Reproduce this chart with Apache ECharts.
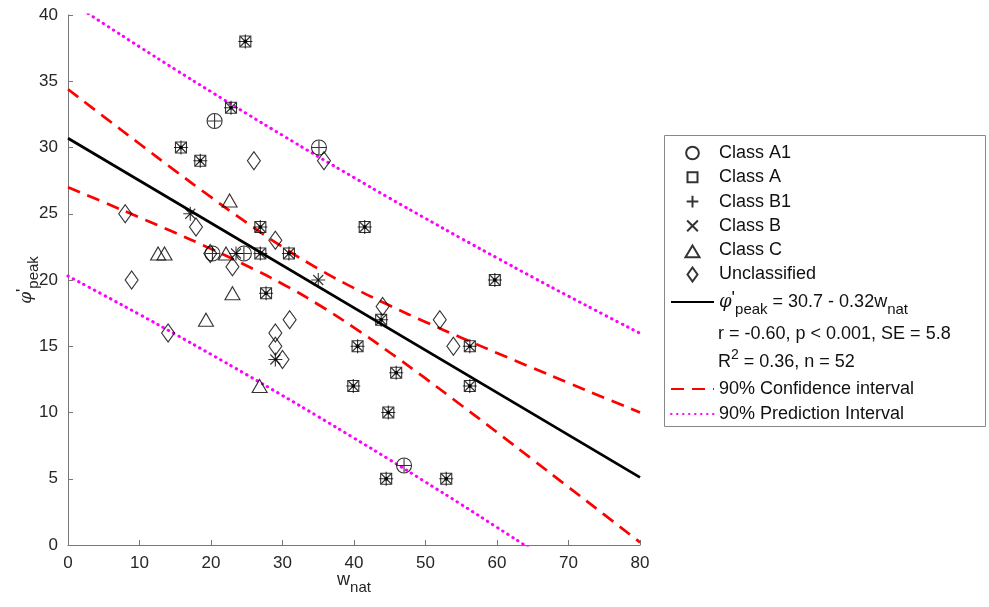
<!DOCTYPE html>
<html>
<head>
<meta charset="utf-8">
<script src="https://cdn.jsdelivr.net/npm/echarts@6/dist/echarts.min.js"></script>
<style>
  html, body { margin: 0; padding: 0; background: #fff; }
  #main { width: 989px; height: 607px; }
</style>
</head>
<body>
<div id="main"></div>
<script>
// points per class [w_nat, phi'_peak]
var classA1 = [[20.5, 32], [35.1, 30], [47.0, 6], [20.2, 22], [24.6, 22]];
var classA = [[24.8, 38], [22.8, 33], [15.8, 30], [18.5, 29], [26.9, 24], [26.9, 22], [30.9, 22],
    [27.7, 19], [41.5, 24], [59.7, 20], [43.8, 17], [40.5, 15], [56.2, 15], [45.9, 13],
    [39.9, 12], [56.2, 12], [44.8, 10], [44.5, 5], [52.9, 5]];
var classB = [[35.0, 20], [29.0, 14], [17.1, 25], [23.5, 22]];
var classC = [[22.6, 26], [12.6, 22], [13.5, 22], [22.1, 22], [23.0, 19], [19.3, 17], [26.8, 12]];
var unclassified = [[8.0, 25], [17.9, 24], [19.9, 22], [23.0, 21], [8.9, 20], [14.0, 16], [29.0, 23],
    [31.0, 17], [29.0, 16], [29.0, 15], [30.0, 14], [26.0, 29], [35.8, 29], [44.0, 18],
    [52.0, 17], [53.9, 15]];

// regression line
var regX = [0, 80];
var regY = [30.7, 5.1];

// interval bands read at these w_nat values
var bandX = [0, 5, 10, 15, 20, 25, 30, 35, 40, 45, 50, 55, 60, 65, 70, 75, 80];
var ciUpper = [34.4, 32.33, 30.28, 28.24, 26.25, 24.32, 22.5, 20.85, 19.39, 18.07, 16.83, 15.65, 14.49, 13.36, 12.23, 11.11, 10.0];
var ciLower = [27.0, 25.87, 24.72, 23.56, 22.35, 21.08, 19.7, 18.15, 16.41, 14.53, 12.57, 10.55, 8.51, 6.44, 4.37, 2.29, 0.2];
var piUpper = [41.1, 39.34, 37.6, 35.89, 34.21, 32.55, 30.92, 29.31, 27.73, 26.17, 24.65, 23.14, 21.67, 20.21, 18.78, 17.37, 15.98];
var piLower = [20.3, 18.86, 17.4, 15.91, 14.39, 12.85, 11.28, 9.69, 8.07, 6.43, 4.75, 3.06, 1.33, -0.41, -2.2, -4.0, -5.8];

var xTicks = [0, 80, 10];
var yTicks = [0, 40, 5];

var FONT = '"Liberation Sans", Arial, sans-serif';
var PLUS = 'path://M5,0L5,10M0,5L10,5';
var CROSS = 'path://M0,0L10,10M0,10L10,0';
// legend icons: the leading moveTo points widen the box to the 43x14 legend slot,
// so each glyph ends up centred and at its own size
var ICON_CIRCLE = 'path://M-11.9,-0.5M21.9,10.5M0,5A5,5,0,1,1,10,5A5,5,0,1,1,0,5Z';
var ICON_RECT = 'path://M-16.5,-2M26.5,12M0,0L10,0L10,10L0,10Z';
var ICON_PLUS = 'path://M-13.4,-1M23.4,11M5,0L5,10M0,5L10,5';
var ICON_CROSS = 'path://M-15,-1.5M25,11.5M0,0L10,10M0,10L10,0';
var ICON_TRI = 'path://M-12.4,-2M24.4,10M6,0L12,10L0,10Z';
var ICON_DIAMOND = 'path://M-16.5,0M26.5,14M5,0L10,7L5,14L0,7Z';

function zip(xs, ys) {
    return xs.map(function (x, i) { return [x, ys[i]]; });
}

var hollow = { color: 'rgba(0,0,0,0)', borderColor: '#000', borderWidth: 1.1 };
var noDot = { color: 'rgba(0,0,0,0)', borderWidth: 0 };

var myChart = echarts.init(document.getElementById('main'));
myChart.setOption({
    animation: false,
    textStyle: { fontFamily: FONT },
    grid: { left: 68, top: 15, width: 572, height: 530, outerBoundsMode: 'none', containLabel: false },
    xAxis: {
        type: 'value', min: xTicks[0], max: xTicks[1], interval: xTicks[2],
        name: '{a|w}{b|nat}', nameLocation: 'middle', nameGap: 21, nameMoveOverlap: false,
        nameTextStyle: {
            rich: {
                a: { fontSize: 18, color: '#262626', fontFamily: FONT },
                b: { fontSize: 15, color: '#262626', fontFamily: FONT, padding: [14, 0, 0, 0] }
            }
        },
        axisLine: { lineStyle: { color: '#777', width: 1 } },
        axisTick: { inside: true, length: 5, lineStyle: { color: '#777' } },
        axisLabel: { fontSize: 17, color: '#262626', margin: 10 },
        splitLine: { show: false }
    },
    yAxis: {
        type: 'value', min: yTicks[0], max: yTicks[1], interval: yTicks[2],
        name: '{a|φ}{p|\'}{b|peak}', nameLocation: 'middle', nameGap: 27, nameMoveOverlap: false,
        nameTextStyle: {
            rich: {
                a: { fontSize: 17, color: '#262626', fontStyle: 'italic', fontFamily: 'DejaVu Serif' },
                p: { fontSize: 17, color: '#262626', fontFamily: FONT, padding: [0, 0, 6, 0] },
                b: { fontSize: 15, color: '#262626', fontFamily: FONT, padding: [14, 0, 0, 0] }
            }
        },
        axisLine: { show: true, lineStyle: { color: '#777', width: 1 } },
        axisTick: { show: true, inside: true, length: 5, lineStyle: { color: '#777' } },
        axisLabel: { fontSize: 17, color: '#262626', margin: 10 },
        splitLine: { show: false }
    },
    legend: [
        {
            orient: 'vertical', left: 670, top: 144, padding: 0,
            itemWidth: 43, itemHeight: 14, itemGap: 6.3,
            textStyle: { fontSize: 18, lineHeight: 18, color: '#111' },
            selectedMode: false,
            data: [
                { name: 'Class A1', icon: ICON_CIRCLE },
                { name: 'Class A', icon: ICON_RECT },
                { name: 'Class B1', icon: ICON_PLUS },
                { name: 'Class B', icon: ICON_CROSS },
                { name: 'Class C', icon: ICON_TRI },
                { name: 'Unclassified', icon: ICON_DIAMOND }
            ]
        },
        {
            orient: 'vertical', left: 670, top: 290, padding: 0, itemWidth: 43, itemHeight: 14,
            selectedMode: false,
            formatter: function () {
                return '{a|φ}{p|\'}{b|peak}{n| = 30.7 - 0.32w}{b|nat}';
            },
            textStyle: {
                color: '#111',
                rich: {
                    a: { fontSize: 18, fontStyle: 'italic', fontFamily: 'DejaVu Serif', color: '#111' },
                    p: { fontSize: 18, color: '#111', padding: [0, 0, 6, 0] },
                    n: { fontSize: 18, color: '#111' },
                    b: { fontSize: 15, color: '#111', padding: [16, 0, 0, 0] }
                }
            },
            data: ['regression']
        },
        {
            orient: 'vertical', left: 670, top: 380, padding: 0,
            itemWidth: 43, itemHeight: 14, itemGap: 7,
            textStyle: { fontSize: 18, lineHeight: 18, color: '#111' },
            selectedMode: false,
            data: ['90% Confidence interval', '90% Prediction Interval']
        }
    ],
    graphic: [
        {
            type: 'rect', left: 664, top: 135, z: -1,
            shape: { width: 321, height: 291 },
            style: { fill: '#fff', stroke: '#888', lineWidth: 1 }
        },
        {
            type: 'text', left: 718, top: 325,
            style: { text: 'r = -0.60, p < 0.001, SE = 5.8', font: '18px ' + FONT, fill: '#111' }
        },
        {
            type: 'text', left: 718, top: 348,
            style: {
                text: '{a|R}{s|2}{a| = 0.36, n = 52}',
                rich: {
                    a: { fontSize: 18, fontFamily: FONT, fill: '#111', padding: [6, 0, 0, 0] },
                    s: { fontSize: 14, fontFamily: FONT, fill: '#111', padding: [0, 0, 8, 0] }
                }
            }
        }
    ],
    series: [
        {
            name: 'regression', type: 'line', data: zip(regX, regY), symbol: 'none',
            lineStyle: { color: '#000', width: 2.7 }, itemStyle: noDot, z: 2
        },
        {
            name: '90% Confidence interval', type: 'line', data: zip(bandX, ciUpper), symbol: 'none', smooth: true,
            lineStyle: { color: '#ff0000', width: 2.7, type: [13, 8] }, itemStyle: noDot, z: 2
        },
        {
            name: '90% Confidence interval', type: 'line', data: zip(bandX, ciLower), symbol: 'none', smooth: true,
            lineStyle: { color: '#ff0000', width: 2.7, type: [13, 8] }, itemStyle: noDot, z: 2
        },
        {
            name: '90% Prediction Interval', type: 'line', data: zip(bandX, piUpper), symbol: 'none', smooth: true,
            lineStyle: { color: '#ff00ff', width: 3, type: [0.5, 5.5], cap: 'round' }, itemStyle: noDot, z: 2
        },
        {
            name: '90% Prediction Interval', type: 'line', data: zip(bandX, piLower), symbol: 'none', smooth: true,
            lineStyle: { color: '#ff00ff', width: 3, type: [0.5, 5.5], cap: 'round' }, itemStyle: noDot, z: 2
        },
        {
            name: 'Class A1', type: 'scatter', data: classA1, symbol: 'circle', symbolSize: 15,
            itemStyle: hollow, z: 3
        },
        {
            name: 'Class A', type: 'scatter', data: classA, symbol: 'rect', symbolSize: 11,
            itemStyle: hollow, z: 3
        },
        {
            // plus marks sit on A1, A and B points
            name: 'Class B1', type: 'scatter', data: classA1.concat(classA, classB), symbol: PLUS, symbolSize: 14,
            itemStyle: hollow, z: 3
        },
        {
            name: 'Class B', type: 'scatter', data: classA.concat(classB), symbol: CROSS, symbolSize: 10,
            itemStyle: hollow, z: 3
        },
        {
            name: 'Class C', type: 'scatter', data: classC, symbol: 'triangle', symbolSize: [15, 13],
            itemStyle: hollow, z: 3
        },
        {
            name: 'Unclassified', type: 'scatter', data: unclassified, symbol: 'diamond', symbolSize: [13, 18],
            itemStyle: hollow, z: 3
        },
        {
            name: 'centre', type: 'scatter', data: classA, symbol: 'circle', symbolSize: 4,
            itemStyle: { color: '#000' }, z: 4
        }
    ]
});
</script>
</body>
</html>
